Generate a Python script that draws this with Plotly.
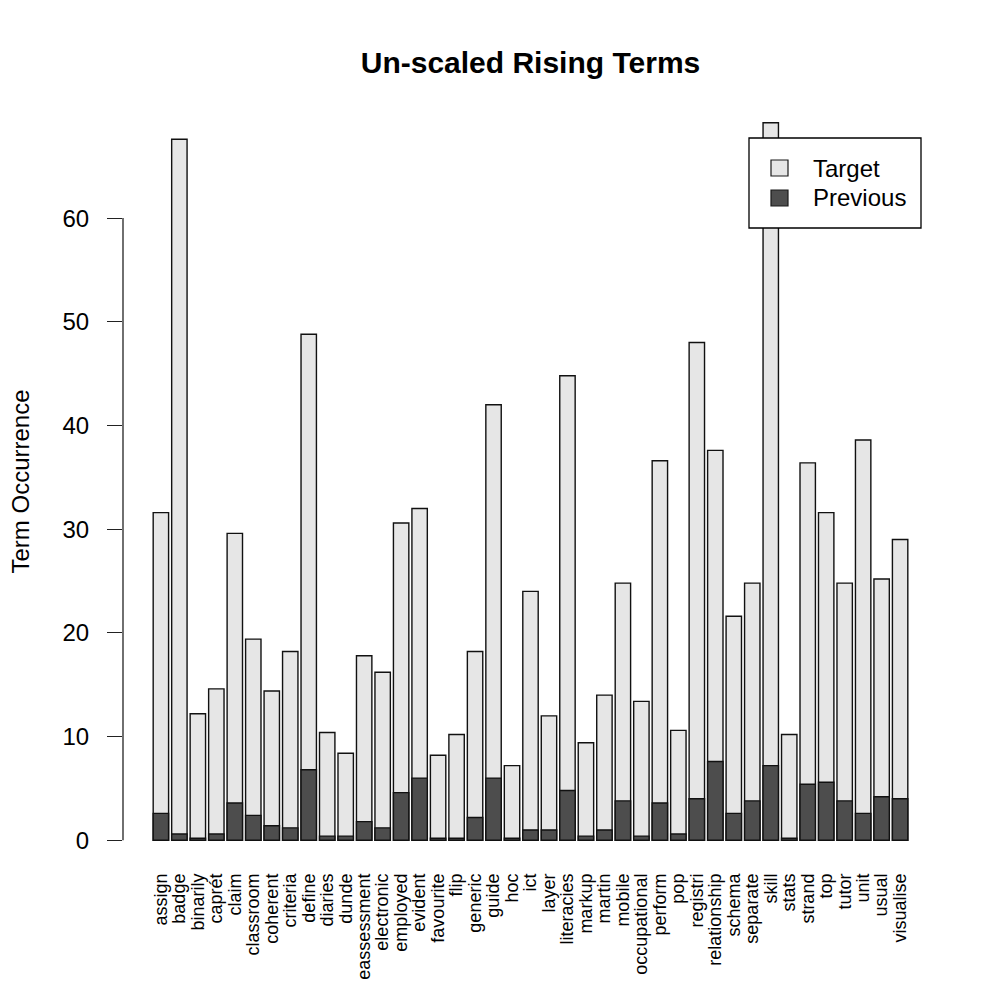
import plotly.graph_objects as go

terms = ["assign", "badge", "binarily", "caprét", "claim", "classroom", "coherent",
         "criteria", "define", "diaries", "dunde", "eassessment", "electronic",
         "employed", "evident", "favourite", "flip", "generic", "guide", "hoc",
         "ict", "layer", "literacies", "markup", "martin", "mobile", "occupational",
         "perform", "pop", "registri", "relationship", "schema", "separate", "skill",
         "stats", "strand", "top", "tutor", "unit", "usual", "visualise"]

target = [31.6, 67.6, 12.2, 14.6, 29.6, 19.4, 14.4, 18.2, 48.8, 10.4,
          8.4, 17.8, 16.2, 30.6, 32.0, 8.2, 10.2, 18.2, 42.0, 7.2,
          24.0, 12.0, 44.8, 9.4, 14.0, 24.8, 13.4, 36.6, 10.6, 48.0,
          37.6, 21.6, 24.8, 69.2, 10.2, 36.4, 31.6, 24.8, 38.6, 25.2, 29.0]

previous = [2.6, 0.6, 0.2, 0.6, 3.6, 2.4, 1.4, 1.2, 6.8, 0.4,
            0.4, 1.8, 1.2, 4.6, 6.0, 0.2, 0.2, 2.2, 6.0, 0.2,
            1.0, 1.0, 4.8, 0.4, 1.0, 3.8, 0.4, 3.6, 0.6, 4.0,
            7.6, 2.6, 3.8, 7.2, 0.2, 5.4, 5.6, 3.8, 2.6, 4.2, 4.0]

y_ticks = [0, 10, 20, 30, 40, 50, 60]

FONT = "Liberation Sans, Arial, Helvetica, sans-serif"
LIGHT = "#E6E6E6"
DARK = "#4D4D4D"

fig = go.Figure()
fig.add_trace(go.Bar(x=terms, y=target, name="Target", marker=dict(color=LIGHT, line=dict(color="#111", width=1.4)), showlegend=False))
fig.add_trace(go.Bar(x=terms, y=previous, name="Previous", marker=dict(color=DARK, line=dict(color="#111", width=1.4)), showlegend=False))

n = len(terms)
ymax = max(target)
pad = 0.04 * (n * 1.2 - 0.2) / 1.2 + 0.5 / 1.2 * 0 + 0.0
fig.update_layout(
    width=1000, height=1000,
    margin=dict(l=123, r=62, t=94, b=131),
    paper_bgcolor="white", plot_bgcolor="white",
    barmode="overlay", bargap=0.2 / 1.2,
    font=dict(family=FONT, color="black"),
    xaxis=dict(type="category", range=[-2.05, n - 1 + 2.05], showline=False, showgrid=False,
               zeroline=False, ticks="", tickangle=-90, tickfont=dict(size=18),
               tickmode="array", tickvals=terms, ticktext=terms, automargin=False),
    yaxis=dict(range=[-0.04 * ymax, ymax * 1.04], showline=False, showgrid=False, zeroline=False,
               tickvals=y_ticks, ticktext=[str(v) for v in y_ticks], ticks="outside", ticklen=15,
               tickwidth=1.3, tickcolor="#222", tickfont=dict(size=24), ticklabelstandoff=13,
               automargin=False),
    title=dict(text="<b>Un-scaled Rising Terms</b>", x=0.5, xref="paper", y=1 - 62 / 1000,
               yref="container", xanchor="center", yanchor="middle", font=dict(size=30, family=FONT)),
)

# y axis line (only spans the tick range, as in R)
fig.add_shape(type="line", xref="paper", yref="y", x0=0, x1=0, y0=y_ticks[0], y1=y_ticks[-1],
              line=dict(color="#222", width=1.3))

# y title
fig.add_annotation(text="Term Occurrence", textangle=-90, xref="paper", yref="paper",
                   x=(20 - 123) / 815, y=0.5, xanchor="center", yanchor="middle",
                   showarrow=False, font=dict(size=24, family=FONT))

# manual legend box
def px(xp):
    return (xp - 123) / 815

def py(yp):
    return (869 - yp) / 775

fig.add_shape(type="rect", xref="paper", yref="paper", x0=px(749), x1=px(921), y0=py(228), y1=py(138),
              line=dict(color="black", width=1.3), fillcolor="white", layer="above")
for i, (lab, col) in enumerate([("Target", LIGHT), ("Previous", DARK)]):
    yc = 168 + i * 30
    fig.add_shape(type="rect", xref="paper", yref="paper", x0=px(771), x1=px(788), y0=py(yc + 8), y1=py(yc - 8),
                  line=dict(color="#1a1a1a", width=1.2), fillcolor=col, layer="above")
    fig.add_annotation(text=lab, xref="paper", yref="paper", x=px(811), y=py(yc), xanchor="left",
                       yanchor="middle", showarrow=False, font=dict(size=24, family=FONT))

fig.write_html("out.html")
